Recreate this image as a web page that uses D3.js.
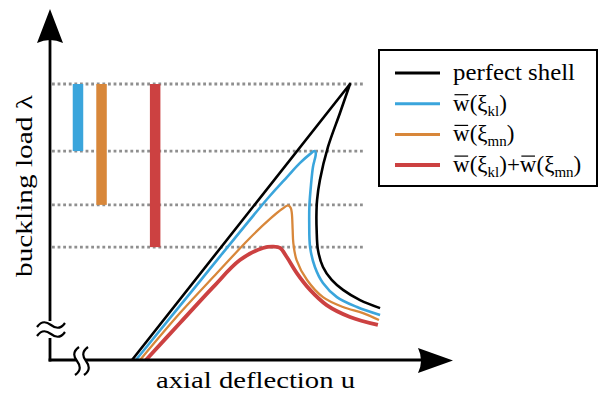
<!DOCTYPE html>
<html lang="en">
<head>
<meta charset="UTF-8"/>
<title>Buckling load vs axial deflection</title>
<script src="https://cdn.jsdelivr.net/npm/d3@7"></script>
<style>
  body { margin: 0; background: #fff; }
  text { font-family: 'Liberation Serif', 'Times New Roman', Times, serif; fill: #000; }
  .axis-label { font-size: 24px; }
  .legend text { font-size: 23px; }
  .sub { font-size: 15px; }
  .level { stroke: #8f8f8f; stroke-width: 2.8; stroke-dasharray: 2.8,2.8; fill: none; }
  .curve { fill: none; stroke-linejoin: round; stroke-linecap: butt; }
</style>
</head>
<body>
<script>
const width = 600, height = 397

// load-deflection paths: [u, lambda], both scaled by the perfect shell limit point
const perfectShell = [[0,0],[1,1],[0.954,0.895],[0.899,0.772],[0.862,0.652],[0.849,0.580],[0.846,0.525],
  [0.847,0.471],[0.853,0.399],[0.876,0.337],[0.916,0.290],[0.968,0.254],[1.046,0.217],[1.138,0.188]]
const imperfKl = [[0.018,0],[0.312,0.286],[0.624,0.587],[0.711,0.663],[0.771,0.714],[0.815,0.745],[0.837,0.757],
  [0.843,0.750],[0.830,0.699],[0.821,0.634],[0.814,0.562],[0.813,0.496],[0.817,0.409],[0.839,0.337],
  [0.876,0.279],[0.940,0.228],[1.032,0.192],[1.138,0.163]]
const imperfMn = [[0.037,0],[0.220,0.170],[0.390,0.315],[0.541,0.442],[0.633,0.511],[0.688,0.547],[0.716,0.560],
  [0.728,0.551],[0.733,0.533],[0.737,0.471],[0.740,0.424],[0.755,0.362],[0.803,0.290],[0.876,0.228],
  [0.968,0.192],[1.060,0.170],[1.133,0.145]]
const imperfBoth = [[0.064,0],[0.220,0.134],[0.372,0.264],[0.495,0.362],[0.601,0.406],[0.647,0.411],[0.679,0.406],
  [0.710,0.373],[0.756,0.315],[0.817,0.254],[0.893,0.199],[1.000,0.156],[1.128,0.127]]

// limit loads (perfect, kl, mn, kl+mn) and where the knock-down bars sit
const limitLoads = [1.0, 0.757, 0.562, 0.409]
const barU = [-0.248, -0.140, 0.106]

const legendLabels = [
  [["perfect shell"]],
  [["w"], ["(ξ"], ["kl", "sub"], [")"]],
  [["w"], ["(ξ"], ["mn", "sub"], [")"]],
  [["w"], ["(ξ"], ["kl", "sub"], [")+"], ["w"], ["(ξ"], ["mn", "sub"], [")"]]
]

const colors = ["#000000", "#3aa5dc", "#d8873a", "#cc4141"]
const strokeW = [2.6, 2.6, 2.3, 3.8]
const legendW = [3, 3, 3, 4]

const svg = d3.select("body").append("svg")
    .attr("width", width)
    .attr("height", height)

const x = d3.scaleLinear().domain([0, 1]).range([132, 350])
const y = d3.scaleLinear().domain([0, 1]).range([360, 84])

const line = d3.line().x(d => x(d[0])).y(d => y(d[1]))
const smooth = d3.line().x(d => x(d[0])).y(d => y(d[1])).curve(d3.curveCatmullRom.alpha(0.5))

// dotted limit load levels
svg.selectAll("line.level")
  .data(limitLoads)
  .join("line")
    .attr("class", "level")
    .attr("x1", x(-0.367)).attr("x2", x(1.07))
    .attr("y1", d => y(d)).attr("y2", d => y(d))

// knock-down bars
svg.selectAll("rect.bar")
  .data(barU)
  .join("rect")
    .attr("class", "bar")
    .attr("x", d => x(d) - 5.2)
    .attr("width", 10.5)
    .attr("y", y(limitLoads[0]))
    .attr("height", (d, i) => y(limitLoads[i + 1]) - y(limitLoads[0]))
    .attr("fill", (d, i) => colors[i + 1])

// curves, drawn back to front
const series = [imperfBoth, imperfMn, imperfKl]
series.forEach((s, k) => {
  const i = 3 - k
  svg.append("path").attr("class", "curve")
    .attr("d", smooth(s))
    .attr("stroke", colors[i]).attr("stroke-width", strokeW[i])
})
// perfect shell: straight pre-buckling branch, sharp limit point
const peak = d3.maxIndex(perfectShell, d => d[1])
svg.append("path").attr("class", "curve")
  .attr("d", line(perfectShell.slice(0, peak + 1)) + smooth(perfectShell.slice(peak)).replace(/^M/, "L"))
  .attr("stroke", colors[0]).attr("stroke-width", strokeW[0])

// axes with breaks
const ax = svg.append("g").attr("fill", "none").attr("stroke", "#000").attr("stroke-width", 2.8)
ax.append("path").attr("d", "M50,361.4V338M50,321V38")
ax.append("path").attr("d", "M48.6,360H76M86,360H424")
ax.append("path").attr("fill", "#000").attr("stroke", "none")
  .attr("d", "M50,9L63,43Q50,37 37,43Z")
ax.append("path").attr("fill", "#000").attr("stroke", "none")
  .attr("d", "M453,360.5L418,348Q424,360.5 418,373Z")

const tildeH = (cx, cy) => `M${cx-14},${cy+2}C${cx-9},${cy-5} ${cx-4},${cy-3} ${cx},${cy}S${cx+9},${cy+5} ${cx+14},${cy-2}`
const tildeV = (cx, cy) => `M${cx+2},${cy-14}C${cx-5},${cy-9} ${cx-3},${cy-4} ${cx},${cy}S${cx+5},${cy+9} ${cx-2},${cy+14}`
ax.append("path").attr("stroke-width", 2.2).attr("d", tildeH(51, 325) + tildeH(51, 334))
ax.append("path").attr("stroke-width", 2.2).attr("d", tildeV(77, 361) + tildeV(86, 361))

// axis labels
svg.append("text").attr("class", "axis-label")
  .attr("x", 255.5).attr("y", 388)
  .attr("text-anchor", "middle")
  .attr("textLength", 199).attr("lengthAdjust", "spacingAndGlyphs")
  .text("axial deflection u")

svg.append("text").attr("class", "axis-label")
  .attr("transform", "translate(32,186) rotate(-90)")
  .attr("text-anchor", "middle")
  .attr("textLength", 182).attr("lengthAdjust", "spacingAndGlyphs")
  .text("buckling load λ")

// legend
const legend = svg.append("g").attr("class", "legend")
legend.append("rect")
  .attr("x", 379).attr("y", 50).attr("width", 218).attr("height", 136)
  .attr("fill", "#fff").attr("stroke", "#000").attr("stroke-width", 2)

legendLabels.forEach((segs, i) => {
  const ry = 73 + i * 30.7
  legend.append("line")
    .attr("x1", 395).attr("x2", 440).attr("y1", ry).attr("y2", ry)
    .attr("stroke", colors[i]).attr("stroke-width", legendW[i])
  const t = legend.append("text").attr("x", 453).attr("y", ry + 7)
  let prevSub = false
  segs.forEach(s => {
    const ts = t.append("tspan").text(s[0])
    if (s[1] === "sub") { ts.attr("class", "sub").attr("dy", 5); prevSub = true }
    else if (prevSub) { ts.attr("dy", -5); prevSub = false }
  })
  if (i === 0) t.attr("textLength", 122).attr("lengthAdjust", "spacingAndGlyphs")
  // bar over each w
  const node = t.node()
  const str = node.textContent
  for (let c = 0; c < str.length; c++) {
    if (str[c] !== "w" || i === 0) continue
    const e = node.getExtentOfChar(c)
    legend.append("line")
      .attr("x1", e.x + 1.5).attr("x2", e.x + e.width - 1.5)
      .attr("y1", ry - 9).attr("y2", ry - 9)
      .attr("stroke", "#000").attr("stroke-width", 1.2)
  }
})
</script>
</body>
</html>
